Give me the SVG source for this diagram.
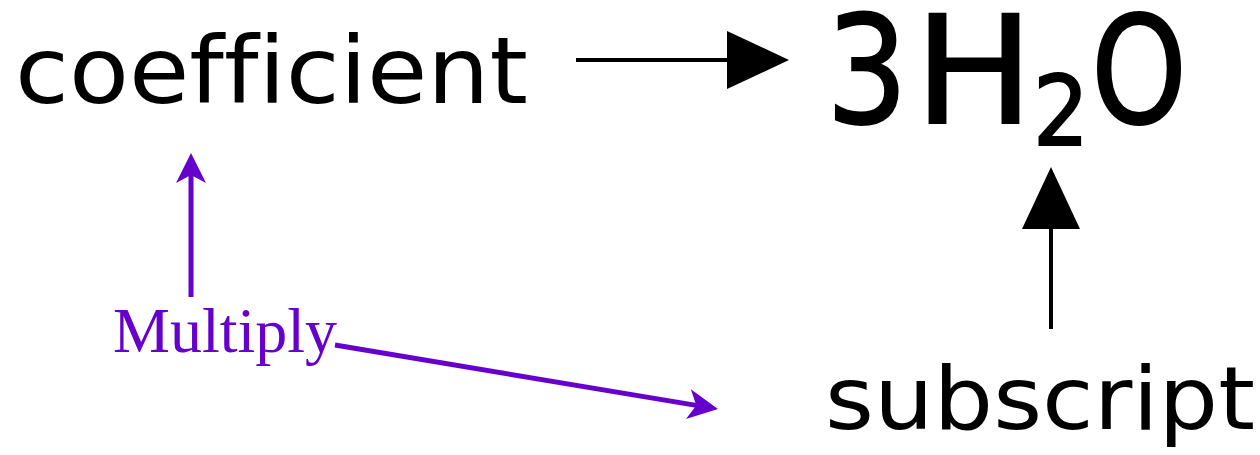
<svg xmlns="http://www.w3.org/2000/svg" width="1260" height="455" viewBox="0 0 1260 455">
<style>
.lbl{font-family:"DejaVu Sans","Liberation Sans",sans-serif;fill:#000;font-variant-ligatures:none;font-feature-settings:"liga" 0}
.f{font-family:"DejaVu Sans","Liberation Sans",sans-serif;fill:#000;stroke:#000;stroke-width:2}
.mul{font-family:"Liberation Serif","Times New Roman",serif;fill:#6600cc}
.blk{stroke:#000;stroke-width:4;fill:none}
.pur{stroke:#6600cc;stroke-width:5;fill:none}
</style>
<defs>
<marker id="hb" markerUnits="userSpaceOnUse" viewBox="-63 -30 64 60" markerWidth="64" markerHeight="60" refX="-62" refY="0" orient="auto">
<path d="M0,0 L-62,-29 L-62,29 Z" fill="#000"/>
</marker>
<marker id="hp" markerUnits="userSpaceOnUse" viewBox="-32 -16 34 32" markerWidth="34" markerHeight="32" refX="-22" refY="0" orient="auto">
<path d="M0,0 L-30,-15 L-22,0 L-30,15 Z" fill="#6600cc"/>
</marker>
</defs>
<rect width="1260" height="455" fill="#fff"/>
<g id="coefficient">
<text class="lbl" x="15" y="103" font-size="92" textLength="513" lengthAdjust="spacingAndGlyphs">coefficient</text>
</g>
<g id="formula">
<text class="f" x="826" y="123" font-size="150" textLength="82" lengthAdjust="spacingAndGlyphs">3</text>
<text class="f" x="914" y="123" font-size="150" textLength="120" lengthAdjust="spacingAndGlyphs">H</text>
<text class="f" x="1033" y="145" font-size="96" textLength="56" lengthAdjust="spacingAndGlyphs">2</text>
<text class="f" x="1091" y="123" font-size="150" textLength="96" lengthAdjust="spacingAndGlyphs">O</text>
</g>
<g id="subscript">
<text class="lbl" x="825" y="429" font-size="88" textLength="430" lengthAdjust="spacingAndGlyphs">subscript</text>
</g>
<g id="multiply">
<text class="mul" x="113" y="352" font-size="63" textLength="224" lengthAdjust="spacingAndGlyphs">Multiply</text>
</g>
<g id="connectors">
<line class="blk" x1="576" y1="60" x2="727" y2="60" marker-end="url(#hb)"/>
<line class="blk" x1="1051" y1="329" x2="1051" y2="229" marker-end="url(#hb)"/>
<line class="pur" x1="191" y1="297" x2="191" y2="175" marker-end="url(#hp)"/>
<line class="pur" x1="335" y1="345" x2="696.3" y2="405.4" marker-end="url(#hp)"/>
</g>
</svg>
